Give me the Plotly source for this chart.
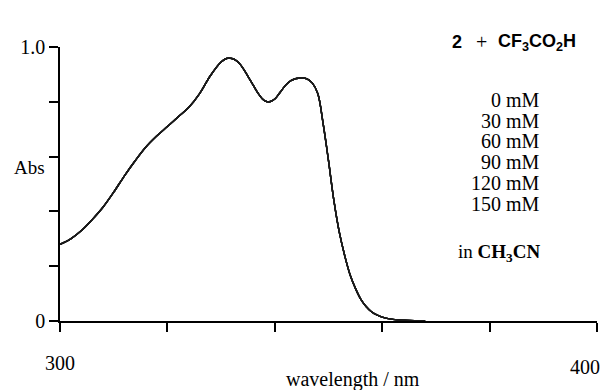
import plotly.graph_objects as go

# Spectrum (wavelength nm, absorbance)
wavelength = [300, 302, 304, 306, 308, 310, 312, 314, 316, 318, 320, 322, 324, 326, 328,
              330, 331, 332, 333, 334, 335, 336, 337, 338, 339, 340, 341, 342, 343, 344,
              345, 346, 347, 348, 349, 350, 351, 352, 353, 354, 355, 356, 357, 358, 359,
              360, 362, 364, 366, 368]
absorbance = [0.28, 0.30, 0.33, 0.37, 0.415, 0.47, 0.53, 0.585, 0.635, 0.675, 0.71, 0.745,
              0.78, 0.83, 0.895, 0.945, 0.958, 0.958, 0.948, 0.925, 0.893, 0.86, 0.828, 0.805,
              0.80, 0.81, 0.835, 0.86, 0.877, 0.885, 0.887, 0.884, 0.868, 0.83, 0.72,
              0.585, 0.44, 0.325, 0.24, 0.17, 0.12, 0.08, 0.053, 0.034, 0.022,
              0.014, 0.006, 0.0025, 0.0007, 0.0]
concentrations = ["0 mM", "30 mM", "60 mM", "90 mM", "120 mM", "150 mM"]

x_tick_vals = [300, 320, 340, 360, 380, 400]
x_tick_text = ["300", "", "", "", "", ""]
y_tick_vals = [0, 0.2, 0.4, 0.6, 0.8, 1.0]
y_tick_text = ["0", "", "", "", "", "1.0"]

fig = go.Figure()
for c in concentrations:
    fig.add_trace(go.Scatter(x=wavelength, y=absorbance, mode="lines", name=c,
                             line=dict(color="#1a1a1a", width=1.4, shape="spline"),
                             showlegend=False))

serif = "Liberation Serif"
sans = "Liberation Sans"
FS = 20

fig.update_layout(
    width=612, height=390,
    margin=dict(l=60, r=15, t=47, b=69),
    paper_bgcolor="white", plot_bgcolor="white",
    xaxis=dict(range=[300, 400], tickvals=x_tick_vals, ticktext=x_tick_text,
               showgrid=False, zeroline=False, showline=True, linecolor="black", linewidth=1.5,
               ticks="outside", ticklen=9, tickwidth=1.5, tickcolor="black",
               ticklabelstandoff=14,
               tickfont=dict(family=serif, size=FS, color="black")),
    yaxis=dict(range=[0, 1.0], tickvals=y_tick_vals, ticktext=y_tick_text,
               showgrid=False, zeroline=False, showline=True, linecolor="black", linewidth=1.5,
               ticks="outside", ticklen=9, tickwidth=1.5, tickcolor="black",
               tickfont=dict(family=serif, size=FS, color="black")),
)

ann = []
ann.append(dict(text="400", x=400, y=0, xref="x", yref="paper", xshift=-12,
                showarrow=False, yanchor="top", xanchor="center", yshift=-33,
                font=dict(family=serif, size=FS, color="black")))
ann.append(dict(text="wavelength / nm", x=0.545, y=-0.213, xref="paper", yref="paper",
                showarrow=False, yanchor="middle", xanchor="center",
                font=dict(family=serif, size=FS, color="black")))
ann.append(dict(text="Abs", x=-0.09, y=0.56, xref="paper", yref="paper",
                showarrow=False, xanchor="left", yanchor="middle",
                font=dict(family=serif, size=19, color="black")))
ann.append(dict(text="<b>2</b>", x=0.739, y=1.018, xref="paper", yref="paper",
                showarrow=False, xanchor="center", yanchor="middle",
                font=dict(family=sans, size=18, color="black")))
ann.append(dict(text="+", x=0.785, y=1.018, xref="paper", yref="paper",
                showarrow=False, xanchor="center", yanchor="middle",
                font=dict(family=serif, size=FS, color="black")))
ann.append(dict(text="<b>CF<sub>3</sub>CO<sub>2</sub>H</b>", x=0.889, y=1.018, xref="paper", yref="paper",
                showarrow=False, xanchor="center", yanchor="middle",
                font=dict(family=sans, size=18, color="black")))
conc_y = [0.807, 0.730, 0.657, 0.580, 0.504, 0.427]
for c, yy in zip(concentrations, conc_y):
    ann.append(dict(text=c, x=0.897, y=yy, xref="paper", yref="paper",
                    showarrow=False, xanchor="right", yanchor="middle",
                    font=dict(family=serif, size=FS, color="black")))
ann.append(dict(text="in <b>CH<sub>3</sub>CN</b>", x=0.897, y=0.248, xref="paper", yref="paper",
                showarrow=False, xanchor="right", yanchor="middle",
                font=dict(family=serif, size=19, color="black")))
fig.update_layout(annotations=ann)

fig.write_html("out.html")
